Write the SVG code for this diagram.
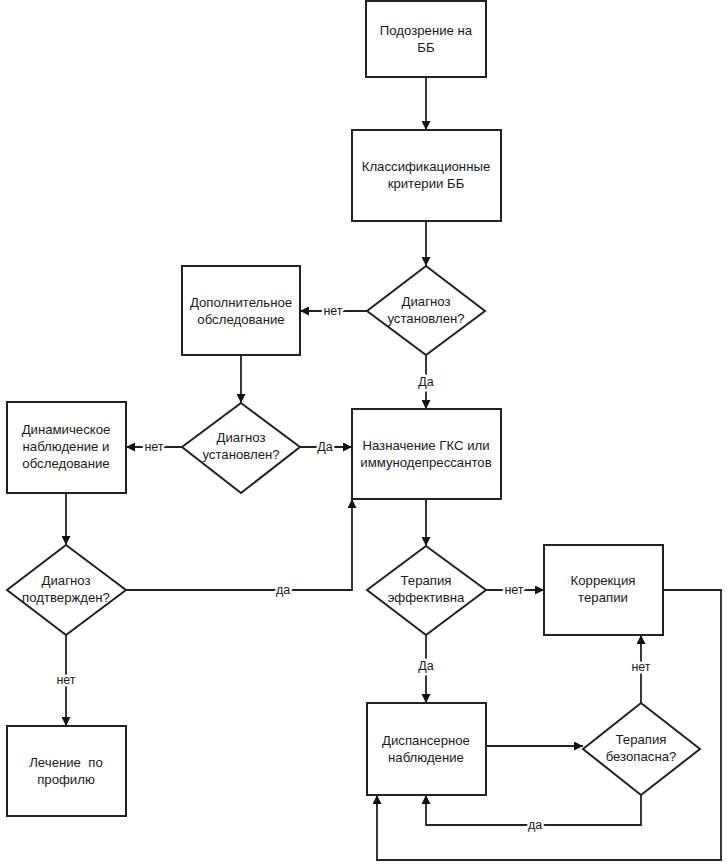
<svg xmlns="http://www.w3.org/2000/svg" width="727" height="866" viewBox="0 0 727 866">
<style>
.n{fill:#fff;stroke:#222;stroke-width:2}
.t{font-family:"Liberation Sans",Arial,sans-serif;font-size:13.2px;fill:#1a1a1a;text-anchor:middle}
.c{fill:none;stroke:#222;stroke-width:1.8}
.l{font-family:"Liberation Sans",Arial,sans-serif;font-size:12.5px;fill:#1a1a1a;text-anchor:middle;stroke:#fff;stroke-width:5;paint-order:stroke;stroke-linejoin:round}
</style>
<defs>
<marker id="a" viewBox="0 0 10 10" refX="10" refY="5" markerWidth="9" markerHeight="9" markerUnits="userSpaceOnUse" orient="auto">
<path d="M0,0 L10,5 L0,10 z" fill="#111"/>
</marker>
</defs>
<rect width="727" height="866" fill="#fff"/>
<g id="connectors">
<path class="c" d="M426,77 V130" marker-end="url(#a)"/>
<path class="c" d="M426,221 V266" marker-end="url(#a)"/>
<path class="c" d="M367,311 H300" marker-end="url(#a)"/>
<path class="c" d="M426,355 V409" marker-end="url(#a)"/>
<path class="c" d="M241,355 V403" marker-end="url(#a)"/>
<path class="c" d="M300,447 H352" marker-end="url(#a)"/>
<path class="c" d="M182,447 H126" marker-end="url(#a)"/>
<path class="c" d="M66,493 V545" marker-end="url(#a)"/>
<path class="c" d="M126,590 H352 V499" marker-end="url(#a)"/>
<path class="c" d="M66,635 V726" marker-end="url(#a)"/>
<path class="c" d="M426,499 V546" marker-end="url(#a)"/>
<path class="c" d="M486,590 H544" marker-end="url(#a)"/>
<path class="c" d="M426,635 V703" marker-end="url(#a)"/>
<path class="c" d="M486,746 H583" marker-end="url(#a)"/>
<path class="c" d="M641,703 V635" marker-end="url(#a)"/>
<path class="c" d="M641,795 V825 H426 V795" marker-end="url(#a)"/>
<path class="c" d="M663,590 H721 V860 H377 V795" marker-end="url(#a)"/>
<text class="l" x="333" y="315">нет</text>
<text class="l" x="426" y="386">Да</text>
<text class="l" x="325" y="451">Да</text>
<text class="l" x="154" y="451">нет</text>
<text class="l" x="283" y="594">да</text>
<text class="l" x="66" y="684">нет</text>
<text class="l" x="514" y="594">нет</text>
<text class="l" x="426" y="670">Да</text>
<text class="l" x="641" y="671">нет</text>
<text class="l" x="535" y="829">да</text>
</g>
<g id="n1"><rect class="n" x="366" y="1" width="120" height="76"/>
<text class="t" x="426" y="35">Подозрение на</text><text class="t" x="426" y="52">ББ</text></g>
<g id="n2"><rect class="n" x="352" y="130" width="149" height="91"/>
<text class="t" x="426" y="171">Классификационные</text><text class="t" x="426" y="188">критерии ББ</text></g>
<g id="n3"><path class="n" d="M426,266 L485,311 L426,355 L367,311 Z"/>
<text class="t" x="426" y="306">Диагноз</text><text class="t" x="426" y="323">установлен?</text></g>
<g id="n4"><rect class="n" x="182" y="266" width="118" height="89"/>
<text class="t" x="241" y="307">Дополнительное</text><text class="t" x="241" y="324">обследование</text></g>
<g id="n5"><path class="n" d="M241,403 L300,447 L241,493 L182,447 Z"/>
<text class="t" x="241" y="442">Диагноз</text><text class="t" x="241" y="459">установлен?</text></g>
<g id="n6"><rect class="n" x="352" y="409" width="149" height="90"/>
<text class="t" x="426" y="450">Назначение ГКС или</text><text class="t" x="426" y="467">иммунодепрессантов</text></g>
<g id="n7"><rect class="n" x="7" y="402" width="119" height="91"/>
<text class="t" x="66" y="434">Динамическое</text><text class="t" x="66" y="451">наблюдение и</text><text class="t" x="66" y="468">обследование</text></g>
<g id="n8"><path class="n" d="M66,545 L126,590 L66,635 L7,590 Z"/>
<text class="t" x="66" y="585">Диагноз</text><text class="t" x="66" y="602">подтвержден?</text></g>
<g id="n9"><rect class="n" x="7" y="726" width="119" height="90"/>
<text class="t" x="66" y="767" xml:space="preserve">Лечение  по</text><text class="t" x="66" y="784">профилю</text></g>
<g id="n10"><path class="n" d="M426,546 L486,590 L426,635 L367,590 Z"/>
<text class="t" x="426" y="585">Терапия</text><text class="t" x="426" y="602">эффективна</text></g>
<g id="n11"><rect class="n" x="544" y="545" width="119" height="90"/>
<text class="t" x="603" y="585">Коррекция</text><text class="t" x="603" y="602">терапии</text></g>
<g id="n12"><rect class="n" x="367" y="703" width="119" height="92"/>
<text class="t" x="426" y="745">Диспансерное</text><text class="t" x="426" y="762">наблюдение</text></g>
<g id="n13"><path class="n" d="M641,703 L700,749 L641,795 L583,749 Z"/>
<text class="t" x="641" y="744">Терапия</text><text class="t" x="641" y="761">безопасна?</text></g>
</svg>
